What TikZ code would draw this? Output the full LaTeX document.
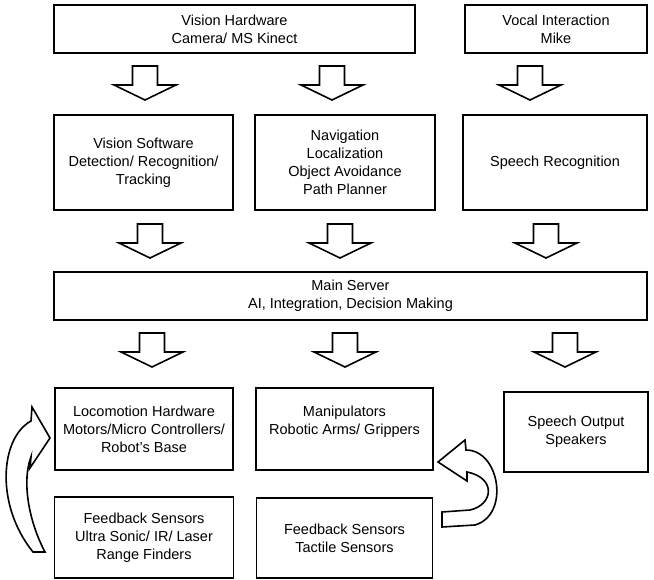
\documentclass[tikz,border=0pt]{standalone}
\usepackage{fontspec}
\setmainfont{Liberation Sans}
\usetikzlibrary{positioning}
\tikzset{box/.style={draw, line width=1.9pt, align=center, inner sep=0pt, font=\fontsize{14.5}{18}\selectfont},
  blockdown/.pic={\draw[line width=1.6pt, fill=white] (-12.5,0) -- (12.5,0) -- (12.5,19) -- (31,19) -- (0,34) -- (-31,19) -- (-12.5,19) -- cycle;},
  bendarrow/.style={draw, line width=1.6pt, fill=white}}

\begin{document}
\begin{tikzpicture}[x=1pt, y=-1pt]
	\useasboundingbox (0,0) rectangle (654,580);

	% inputs
	\node[box, minimum width=361pt, minimum height=48pt] (VH) at (234.5,29) {Vision Hardware\\Camera/ MS Kinect};
	\node[box, minimum width=182pt, minimum height=48pt] (VI) at (556,29) {Vocal Interaction\\Mike};

	% processing
	\node[box, minimum width=179pt, minimum height=95pt] (VS) at (143.5,162.5) {Vision Software\\Detection/ Recognition/\\Tracking};
	\node[box, minimum width=180pt, minimum height=95pt] (NAV) at (345,162.5) {Navigation\\Localization\\Object Avoidance\\Path Planner};
	\node[box, minimum width=184pt, minimum height=95pt] (SR) at (555,162.5) {Speech Recognition};

	\node[box, minimum width=593pt, minimum height=48pt] (MS) at (350.5,296) {Main Server\\AI, Integration, Decision Making};

	% outputs
	\node[box, minimum width=178pt, minimum height=82pt] (LOCO) at (144,429) {Locomotion Hardware\\Motors/Micro Controllers/\\Robot's Base};
	\node[box, minimum width=177pt, minimum height=82pt] (MAN) at (344.5,429) {Manipulators\\Robotic Arms/ Grippers\\~};
	\node[box, minimum width=144pt, minimum height=80pt] (SO) at (576,432) {Speech Output\\Speakers};
	\node[box, minimum width=179pt, minimum height=81pt] (FB1) [below=25pt of LOCO] {Feedback Sensors\\Ultra Sonic/ IR/ Laser\\Range Finders};
	\node[box, minimum width=176pt, minimum height=80pt] (FB2) [below=26pt of MAN] {Feedback Sensors\\Tactile Sensors};

	% flow arrows
	\pic at (145,66) {blockdown};
	\pic at (332,66) {blockdown};
	\pic at (530,66) {blockdown};
	\pic at (150,224) {blockdown};
	\pic at (340,224) {blockdown};
	\pic at (546,224) {blockdown};
	\pic at (152,333) {blockdown};
	\pic at (345,333) {blockdown};
	\pic at (565,333) {blockdown};

	% feedback loops
	\path[bendarrow] (50,438) -- (32,407) -- (31,421) .. controls (0,438) and (-5,505) .. (33,552) -- (45,552) .. controls (28,520) and (22,480) .. (31,457) -- (30,468) -- cycle;
	\path[bendarrow] (438,462) -- (465,440) -- (466,450) .. controls (500,450) and (510,515) .. (475,525) -- (442,527) -- (442,512) -- (470,510) .. controls (493,505) and (497,478) .. (467,472) -- (467,481) -- cycle;
\end{tikzpicture}
\end{document}
